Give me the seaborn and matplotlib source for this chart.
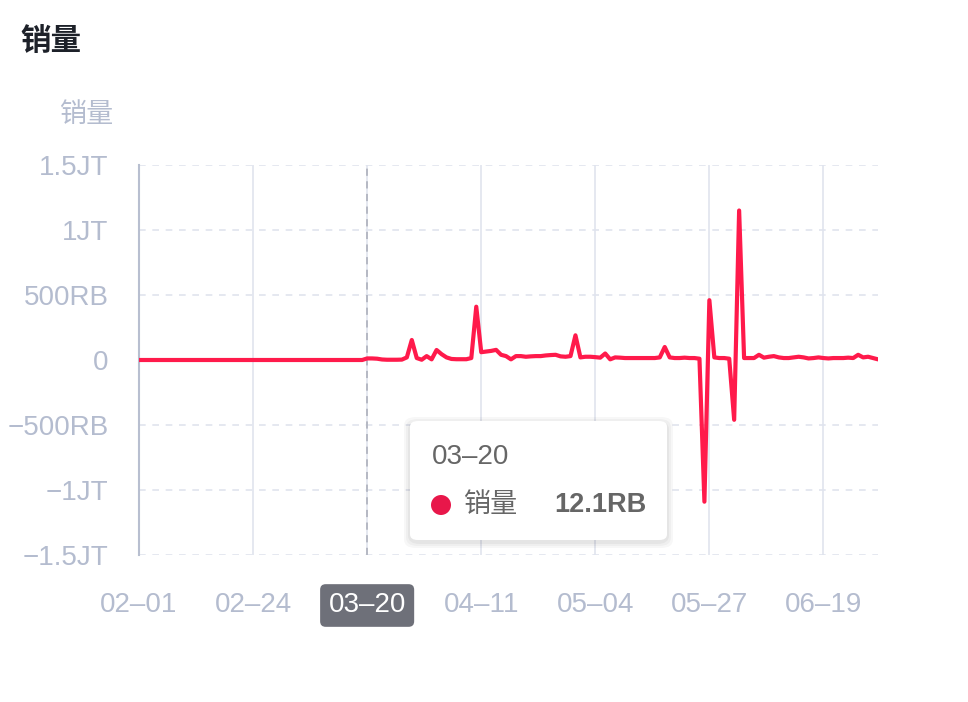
import numpy as np
import pandas as pd
import matplotlib
matplotlib.use("Agg")
import matplotlib.pyplot as plt
import seaborn as sns
from matplotlib.patches import FancyBboxPatch, Ellipse

sns.set_style("white")
plt.rcParams['font.family'] = ['Liberation Sans', 'Noto Sans CJK SC', 'DejaVu Sans']
plt.rcParams['axes.unicode_minus'] = True

# daily sales in thousands (RB), one value per day shown on the category axis
sales_k = [
    0, 0, 0, 0, 0, 0, 0, 0, 0, 0, 0, 0, 0, 0, 0, 0, 0, 0, 0, 0, 0, 0, 0,
    0, 0, 0, 0, 0, 0, 0, 0, 0, 0, 0, 0, 0, 0, 0, 0, 0, 0, 0, 0, 0, 0, 0,
    12.1, 12, 10, 4, 2, 2, 2, 3, 20, 154, 15, 2, 30, 5, 77, 45, 20, 8, 6, 6,
    6, 15, 410, 60, 65, 70, 78, 40, 30, 5, 30, 30, 25, 28, 30, 30, 35, 38,
    40, 28, 25, 30, 190, 20, 25, 25, 22, 18, 50, 5, 20, 18, 15, 15, 15, 15,
    15, 15, 15, 20, 100, 20, 15, 15, 18, 15, 15, 10, -1090, 460, 20, 15, 15,
    10, -460, 1150, 15, 15, 15, 40, 18, 25, 30, 20, 15, 15, 20, 25, 20, 12,
    15, 20, 15, 12, 15, 15, 15, 18, 15, 40, 20, 25, 15, 5,
]
tick_pos = [0, 23, 46, 69, 92, 115, 138]
tick_labels = ['02–01', '02–24', '03–20', '04–11', '05–04', '05–27', '06–19']
y_ticks = [-1.5e6, -1e6, -5e5, 0, 5e5, 1e6, 1.5e6]
y_labels = ['−1.5JT', '−1JT', '−500RB', '0', '500RB', '1JT', '1.5JT']
hover_idx = 46
hover_date = '03–20'
hover_value = '12.1RB'

df = pd.DataFrame({'day': np.arange(len(sales_k)), 'sales': np.array(sales_k) * 1000})

W, H = 968, 702
fig = plt.figure(figsize=(W / 100, H / 100), dpi=100)
ax = fig.add_axes([139 / W, 1 - 555 / H, (878 - 139) / W, (555 - 165) / H])

line_c = '#ff1a4b'
grid_c = '#e0e4ee'
label_c = '#b4bccf'

for y in y_ticks:
    if y != 0:
        ax.axhline(y, color=grid_c, lw=1.2, ls=(0, (4, 4)), zorder=0)
for x in tick_pos[1:]:
    ax.axvline(x, color=grid_c, lw=1.2, zorder=0)
ax.axvline(hover_idx, color='#b1b5c0', lw=1.3, ls=(0, (4, 3)), zorder=1)

sns.lineplot(data=df, x='day', y='sales', color=line_c, lw=3, ax=ax, zorder=3,
             solid_joinstyle='round', solid_capstyle='round')

ax.set_xlim(0, len(sales_k) - 1)
ax.set_ylim(-1.5e6, 1.5e6)
ax.set_xticks(tick_pos)
ax.set_xticklabels(tick_labels)
ax.set_yticks(y_ticks)
ax.set_yticklabels(y_labels)
ax.set_xlabel('')
ax.set_ylabel('')
for s in ['top', 'right', 'bottom']:
    ax.spines[s].set_visible(False)
ax.spines['left'].set_color('#b8bfd0')
ax.spines['left'].set_linewidth(1.5)
ax.tick_params(axis='y', length=0, pad=22, labelsize=20, labelcolor=label_c)
ax.tick_params(axis='x', length=0, pad=27, labelsize=20, labelcolor=label_c)

for lbl in ax.get_xticklabels():
    if lbl.get_text() == hover_date:
        lbl.set_color('white')
        lbl.set_bbox(dict(boxstyle='round,pad=0.3,rounding_size=0.2',
                          fc='#6e7079', ec='none'))

# title and axis name
fig.text(20 / W, 1 - 42 / H, '销量', fontsize=22, fontweight='bold',
         color='#1d2129', ha='left', va='center')
fig.text(87 / W, 1 - 115 / H, '销量', fontsize=19.5, color=label_c,
         ha='center', va='center')

# tooltip
bx, by, bw, bh = 410, 421, 257, 119
for i, a in enumerate([0.03, 0.03, 0.04]):
    g = 6 - i * 2
    fig.add_artist(FancyBboxPatch(((bx - g) / W, 1 - (by + bh + g + 2) / H),
                                  (bw + 2 * g) / W, (bh + 2 * g) / H,
                                  boxstyle='round,pad=0,rounding_size=0.012',
                                  fc='black', ec='none', alpha=a,
                                  transform=fig.transFigure, zorder=9))
fig.add_artist(FancyBboxPatch((bx / W, 1 - (by + bh) / H), bw / W, bh / H,
                              boxstyle='round,pad=0,rounding_size=0.008',
                              fc='white', ec='none',
                              transform=fig.transFigure, zorder=10))
fig.text(432 / W, 1 - 457 / H, hover_date, fontsize=20, color='#666666',
         ha='left', va='center', zorder=11)
fig.add_artist(Ellipse((441 / W, 1 - 505 / H), 20 / W, 20 / H, fc='#e8174a',
                       ec='none', transform=fig.transFigure, zorder=11))
fig.text(464 / W, 1 - 505 / H, '销量', fontsize=19.5, color='#666666',
         ha='left', va='center', zorder=11)
fig.text(646 / W, 1 - 505 / H, hover_value, fontsize=19.5, fontweight='bold',
         color='#666666', ha='right', va='center', zorder=11)

fig.savefig('out.png', dpi=100)
